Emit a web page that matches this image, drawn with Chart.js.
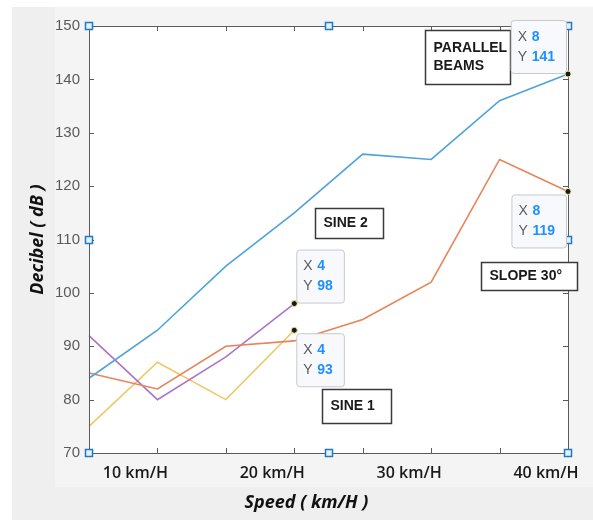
<!DOCTYPE html>
<html>
<head>
<meta charset="utf-8">
<script src="https://cdn.jsdelivr.net/npm/chart.js@4/dist/chart.umd.min.js"></script>
<style>
  html, body { margin: 0; padding: 0; background: #fff; }
  #wrap { width: 593px; height: 520px; position: relative; }
</style>
</head>
<body>
<div id="wrap"><canvas id="decibelChart"></canvas></div>
<script>
// ── data ────────────────────────────────────────────────────────────────
const speeds = ["", "10 km/H", "", "20 km/H", "", "30 km/H", "", "40 km/H"];
const parallelBeams = [84, 93, 105, 115, 126, 125, 136, 141];
const slope30 = [85, 82, 90, 91, 95, 102, 125, 119];
const sine2 = [92, 80, 88, 98];
const sine1 = [75, 87, 80, 93];
const yTicks = [70, 80, 90, 100, 110, 120, 130, 140, 150];

const series = [
  { label: "PARALLEL BEAMS", data: parallelBeams, color: "#4ea3da" },
  { label: "SLOPE 30°", data: slope30, color: "#e8835a" },
  { label: "SINE 2", data: sine2, color: "#ad74c4" },
  { label: "SINE 1", data: sine1, color: "#f2c665" },
];

// data tips: which series / point, and on which side the box sits
const tips = [
  { ds: 0, i: 7, side: "ul" },
  { ds: 1, i: 7, side: "ll" },
  { ds: 2, i: 3, side: "ur" },
  { ds: 3, i: 3, side: "lr" },
];

// text boxes (top-left corner in data units, size in px)
const notes = [
  { lines: ["PARALLEL", "BEAMS"], x: 4.91, y: 149.3, w: 85, h: 54 },
  { lines: ["SINE 2"], x: 3.30, y: 115.9, w: 68, h: 30 },
  { lines: ["SLOPE 30°"], x: 5.73, y: 105.8, w: 96, h: 28 },
  { lines: ["SINE 1"], x: 3.40, y: 82.0, w: 69, h: 34 },
];

const X_SHIFT = -22; // labels under the x axis sit a little left of their ticks
const titleFont = "italic bold 18px 'Open Sans', sans-serif";

// ── MATLAB-ish figure decoration ─────────────────────────────────────────
const figurePlugin = {
  id: "figure",
  beforeDraw(chart) {
    const { ctx, chartArea: a } = chart;
    ctx.save();
    ctx.fillStyle = "#ffffff";
    ctx.fillRect(0, 0, chart.width, chart.height);
    ctx.fillStyle = "#efefef";
    ctx.fillRect(12, 7, chart.width - 12, chart.height - 7);
    ctx.fillStyle = "#f4f4f4";
    ctx.fillRect(55, 7, chart.width - 55, 480);
    ctx.fillStyle = "#ffffff";
    ctx.fillRect(a.left, a.top, a.right - a.left, a.bottom - a.top);
    ctx.restore();
  },
  afterDatasetsDraw(chart) {
    const { ctx, chartArea: a, scales } = chart;
    const xs = scales.x, ys = scales.y;
    ctx.save();

    // axis titles
    ctx.fillStyle = "#111";
    ctx.font = titleFont;
    ctx.textAlign = "center";
    ctx.textBaseline = "middle";
    ctx.fillText("Speed ( km/H )", (a.left + a.right) / 2 + X_SHIFT, a.bottom + 50);
    ctx.save();
    ctx.translate(a.left - 51, (a.top + a.bottom) / 2);
    ctx.rotate(-Math.PI / 2);
    ctx.fillText("Decibel ( dB )", 0, 0);
    ctx.restore();

    // axes box + inward ticks
    ctx.strokeStyle = "#5b5b5b";
    ctx.lineWidth = 1;
    ctx.strokeRect(a.left + 0.5, a.top + 0.5, a.right - a.left, a.bottom - a.top);
    ctx.beginPath();
    speeds.forEach((_, i) => {
      const px = Math.round(xs.getPixelForValue(i)) + 0.5;
      ctx.moveTo(px, a.bottom); ctx.lineTo(px, a.bottom - 5);
      ctx.moveTo(px, a.top); ctx.lineTo(px, a.top + 5);
    });
    yTicks.forEach((v) => {
      const py = Math.round(ys.getPixelForValue(v)) + 0.5;
      ctx.moveTo(a.left, py); ctx.lineTo(a.left + 5, py);
      ctx.moveTo(a.right, py); ctx.lineTo(a.right - 5, py);
    });
    ctx.stroke();

    // text boxes
    notes.forEach((n) => {
      const bx = Math.round(xs.getPixelForValue(n.x)) + 0.5;
      const by = Math.round(ys.getPixelForValue(n.y)) + 0.5;
      ctx.fillStyle = "#ffffff";
      ctx.fillRect(bx, by, n.w, n.h);
      ctx.strokeStyle = "#3a3a3a";
      ctx.lineWidth = 1.5;
      ctx.strokeRect(bx, by, n.w, n.h);
      ctx.fillStyle = "#1a1a1a";
      ctx.font = "bold 14px 'Liberation Sans', Arial, sans-serif";
      ctx.textBaseline = "middle";
      ctx.textAlign = "left";
      const lh = 18;
      const y0 = by + n.h / 2 - ((n.lines.length - 1) * lh) / 2;
      n.lines.forEach((t, k) => ctx.fillText(t, bx + 8, y0 + k * lh));
    });

    // selection handles
    const hx = [a.left, (a.left + a.right) / 2, a.right];
    const hy = [a.top, (a.top + a.bottom) / 2, a.bottom];
    ctx.lineWidth = 1.5;
    ctx.strokeStyle = "#1f7ac4";
    ctx.fillStyle = "#e6f1fb";
    hy.forEach((y, r) => hx.forEach((x, c) => {
      if (r === 1 && c === 1) return;
      ctx.fillRect(Math.round(x) - 3.5, Math.round(y) - 3.5, 7, 7);
      ctx.strokeRect(Math.round(x) - 3.5, Math.round(y) - 3.5, 7, 7);
    }));

    // data tips
    tips.forEach((t) => {
      const v = series[t.ds].data[t.i];
      const px = xs.getPixelForValue(t.i);
      const py = ys.getPixelForValue(v);
      const xs_ = String(t.i + 1), ys_ = String(v);
      ctx.font = "bold 14px 'Liberation Sans', Arial, sans-serif";
      const w = 30 + ctx.measureText(ys_).width + 2;
      const h = 53;
      const bx = t.side[1] === "l" ? px - w - 2 : px + 2;
      const by = t.side[0] === "u" ? py - h - 1 : py + 3;
      ctx.beginPath();
      ctx.roundRect(bx + 0.5, by + 0.5, w, h, 3);
      ctx.fillStyle = "#f8f9fd";
      ctx.fill();
      ctx.strokeStyle = "#c9c9cc";
      ctx.lineWidth = 1;
      ctx.stroke();
      ctx.textBaseline = "middle";
      ctx.textAlign = "left";
      [["X", xs_], ["Y", ys_]].forEach(([k, val], j) => {
        const ty = by + 17 + j * 20;
        ctx.font = "14px 'Liberation Sans', Arial, sans-serif";
        ctx.fillStyle = "#5a5a5a";
        ctx.fillText(k, bx + 7, ty);
        ctx.font = "bold 14px 'Liberation Sans', Arial, sans-serif";
        ctx.fillStyle = "#1e90ff";
        ctx.fillText(val, bx + 21, ty);
      });
      ctx.beginPath();
      ctx.arc(px, py, 3, 0, Math.PI * 2);
      ctx.fillStyle = "#1a1a1a";
      ctx.fill();
      ctx.strokeStyle = "#e7e59a";
      ctx.lineWidth = 1;
      ctx.stroke();
    });

    ctx.restore();
  },
};

// ── chart ───────────────────────────────────────────────────────────────
const ctx = document.getElementById("decibelChart").getContext("2d");
new Chart(ctx, {
  type: "line",
  data: {
    labels: speeds,
    datasets: series.map((s) => ({
      label: s.label,
      data: s.data,
      borderColor: s.color,
      backgroundColor: s.color,
      borderWidth: 1.6,
      pointRadius: 0,
      tension: 0,
    })),
  },
  options: {
    responsive: true,
    maintainAspectRatio: false,
    animation: false,
    layout: { padding: { left: 12, top: 26, right: 25, bottom: 0 } },
    plugins: { legend: { display: false }, tooltip: { enabled: false } },
    scales: {
      x: {
        offset: false,
        grid: { display: false, drawTicks: false },
        border: { display: false },
        ticks: {
          autoSkip: false,
          maxRotation: 0,
          padding: 11,
          labelOffset: X_SHIFT,
          color: "#1a1a1a",
          font: { family: "'Open Sans', sans-serif", size: 16, weight: "600" },
        },
        afterFit: (s) => { s.height = 67; s.paddingLeft = 0; s.paddingRight = 0; },
      },
      y: {
        min: yTicks[0],
        max: yTicks[yTicks.length - 1],
        grid: { display: false, drawTicks: false },
        border: { display: false },
        afterBuildTicks: (s) => { s.ticks = yTicks.map((v) => ({ value: v })); },
        ticks: {
          padding: 9,
          color: "#5a5a5a",
          font: { family: "'Liberation Sans', Arial, sans-serif", size: 15 },
        },
        afterFit: (s) => { s.width = 77; s.paddingTop = 0; s.paddingBottom = 0; },
      },
    },
  },
  plugins: [figurePlugin],
});
</script>
</body>
</html>
